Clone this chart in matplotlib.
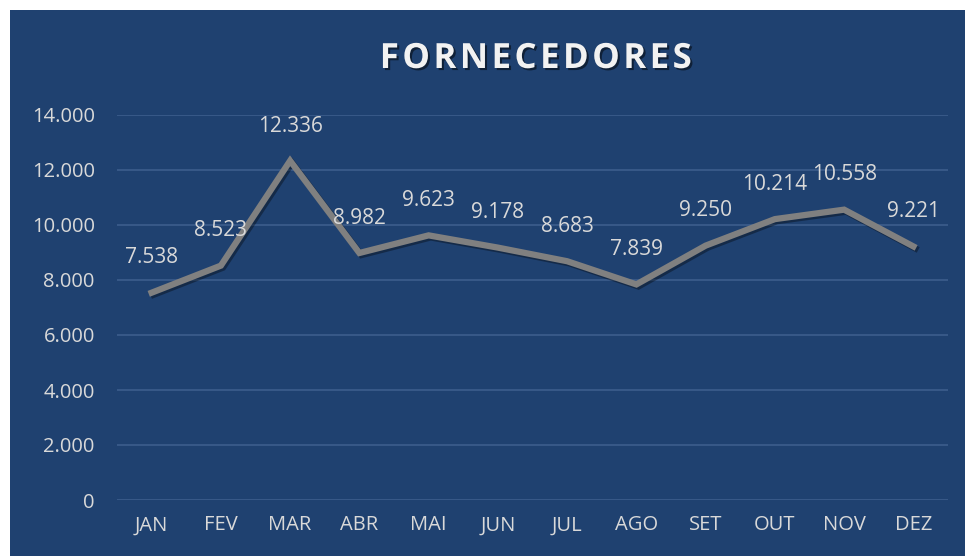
import matplotlib.pyplot as plt
import matplotlib.patheffects as pe
from matplotlib.patches import Rectangle

meses = ['JAN', 'FEV', 'MAR', 'ABR', 'MAI', 'JUN', 'JUL', 'AGO', 'SET', 'OUT', 'NOV', 'DEZ']
fornecedores = [7538, 8523, 12336, 8982, 9623, 9178, 8683, 7839, 9250, 10214, 10558, 9221]
y_ticks = [0, 2000, 4000, 6000, 8000, 10000, 12000, 14000]

fundo = '#1F4170'
texto = '#D9D9D9'

def fmt(v):
    return f'{v:,}'.replace(',', '.')

plt.rcParams['font.family'] = ['Open Sans', 'DejaVu Sans']

fig = plt.figure(figsize=(9.65, 5.56), dpi=100)
fig.patch.set_facecolor('white')
fig.patches.append(Rectangle((10 / 965, 0), 955 / 965, 546 / 556, transform=fig.transFigure,
                             facecolor=fundo, edgecolor='none', zorder=-1))

ax = fig.add_axes([117 / 965, 56 / 556, 831 / 965, 385 / 556])
ax.set_zorder(2)
ax.set_facecolor('none')
x = list(range(len(meses)))
ax.plot(x, fornecedores, color='#808080', lw=4.5, solid_joinstyle='miter', zorder=3,
        path_effects=[pe.SimpleLineShadow(offset=(1.5, -1.5), shadow_color='black', alpha=0.35),
                      pe.Normal()])

for xi, v in zip(x, fornecedores):
    ax.annotate(fmt(v), (xi, v), xytext=(0, 25), textcoords='offset points',
                ha='center', va='center', color=texto, fontsize=15)

ax.set_xlim(-0.5, len(meses) - 0.5)
ax.set_ylim(0, 14000)
ax.set_xticks(x)
ax.set_xticklabels(meses)
ax.set_yticks(y_ticks)
ax.set_yticklabels([fmt(v) for v in y_ticks])
ax.tick_params(length=0, colors=texto, labelsize=14.5)
ax.tick_params(axis='y', pad=16)
ax.tick_params(axis='x', pad=11)
ax.grid(axis='y', color='#3C5D8C', lw=1.2)
ax.set_axisbelow(True)
for s in ax.spines.values():
    s.set_visible(False)

fig.text(536 / 965, 1 - 59 / 556, '\u200a'.join('FORNECEDORES'), ha='center', va='center',
         color='#F2F2F2', fontsize=25, fontweight='bold', zorder=3,
         path_effects=[pe.withSimplePatchShadow(offset=(1.5, -1.5), shadow_rgbFace='black', alpha=0.5)])

fig.savefig('out.png', dpi=100)
